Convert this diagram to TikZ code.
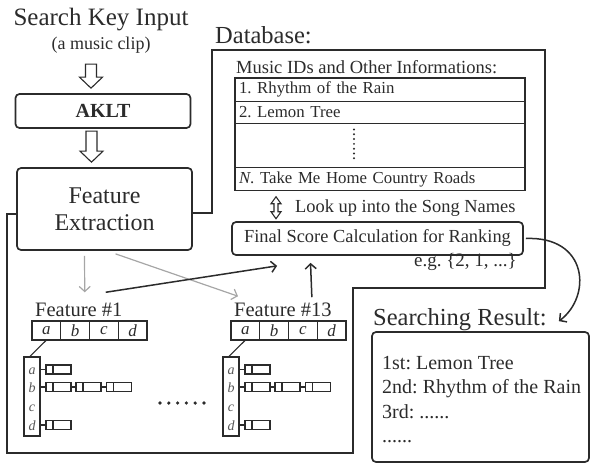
\documentclass[tikz,border=0pt]{standalone}
\usepackage{fontspec}
\setmainfont{Liberation Serif}
\usetikzlibrary{arrows.meta,calc,positioning}
\frenchspacing

\definecolor{ink}{gray}{0.17}

\tikzset{
  line/.style={draw=ink, line width=1.7pt},
  rbox/.style={line, rounded corners=4pt, inner sep=0pt, text=ink},
  listrow/.style={draw=ink, line width=1.4pt, minimum width=290pt, inner sep=4pt, outer sep=0pt, text=ink, font=\fontsize{16.8}{16.8}\selectfont},
  cell/.style={draw=ink, line width=1.4pt, minimum width=28.75pt, minimum height=19pt, inner sep=0pt, outer sep=0pt, text=ink, font=\fontsize{17}{17}\selectfont\itshape},
  column/.style={draw=ink, line width=1.3pt, minimum width=16pt, minimum height=79pt, inner sep=0pt},
  colletter/.style={anchor=base, inner sep=0pt, text=ink!80, font=\fontsize{14}{14}\selectfont\itshape},
  linkbox/.style={draw=ink, line width=1.2pt, minimum width=25pt, minimum height=9pt, inner sep=0pt,
    path picture={\draw[ink, line width=1.2pt] ([xshift=7pt]path picture bounding box.north west) -- ([xshift=7pt]path picture bounding box.south west);}},
  link/.style={draw=ink, line width=1.2pt},
  label/.style={inner sep=0pt, text=ink},
  grayarrow/.style={draw=gray!70, line width=1.2pt, -{Straight Barb[length=5pt,width=11pt]}},
  blackarrow/.style={draw=ink, line width=1.5pt, -{Straight Barb[length=5pt,width=11pt]}},
  hollow/.style={draw=ink, line width=1.1pt, fill=white},
  pics/hollow down/.style={code={
    \draw[hollow] (-5.5,0) -- (5.5,0) -- (5.5,{#1-11}) -- (11.5,{#1-11}) -- (0,#1)
      -- (-11.5,{#1-11}) -- (-5.5,{#1-11}) -- cycle;}},
  pics/hollow updown/.style={code={
    \draw[hollow] (0,0) -- (5,7) -- (2,7) -- (2,15) -- (5,15) -- (0,22) -- (-5,15)
      -- (-2,15) -- (-2,7) -- (-5,7) -- cycle;}}
}

\begin{document}
\begin{tikzpicture}[x=1pt, y=-1pt]
\useasboundingbox (0,0) rectangle (591,464);

% input side
\node[label, anchor=base, font=\fontsize{25}{25}\selectfont] (key) at (101,25) {Search Key Input};
\node[label, anchor=base, font=\fontsize{18}{18}\selectfont] (clip) at (101,49) {(a music clip)};
\node[rbox, minimum width=175pt, minimum height=34pt, font=\fontsize{20}{20}\selectfont\bfseries] (aklt) at (103,111) {AKLT};
\node[rbox, minimum width=175pt, minimum height=82pt, align=center, font=\fontsize{24}{27}\selectfont] (fe) at (104.5,209) {Feature\\Extraction};
\path (aklt.north) ++(-12,-29) pic {hollow down=24};
\path (fe.north) ++(-13,-36) pic {hollow down=31};

% database outline
\coordinate (dbin) at (212,213);
\coordinate (dbtl) at (212,50);
\coordinate (dbtr) at (545,50);
\coordinate (dbmr) at (545,288);
\coordinate (dbmm) at (353,288);
\coordinate (dbbr) at (353,453);
\coordinate (dbbl) at (7,453);
\coordinate (dbml) at (7,214);
\draw[line] (fe.east |- dbin) -- (dbin) -- (dbtl) -- (dbtr) -- (dbmr) -- (dbmm)
  -- (dbbr) -- (dbbl) -- (dbml) -- (fe.west |- dbml);
\node[label, anchor=base west, font=\fontsize{24.5}{24.5}\selectfont] (db) at (215,43) {Database:};

% music list
\node[label, anchor=base west, font=\fontsize{18.5}{18.5}\selectfont] (ids) at (236,73) {Music IDs and Other Informations:};
\node[listrow, minimum height=23pt, anchor=north west, text width=282pt] (row1) at (235,78) {1. Rhythm of the Rain};
\node[listrow, minimum height=22pt, below=0pt of row1, text width=282pt] (row2) {2. Lemon Tree};
\node[listrow, minimum height=44pt, below=0pt of row2] (rowdots) {};
\node[listrow, minimum height=22pt, below=0pt of rowdots, text width=282pt] (rowN) {\textit{N}. Take Me Home Country Roads};
\foreach \i in {0,...,6}
  \fill[ink] ($(rowdots.center)+(-26,{-16+4.8*\i})$) circle (1.1pt);

\path ($(rowN.south west)+(41,6)$) pic {hollow updown};
\node[label, anchor=base west, font=\fontsize{18.4}{18.4}\selectfont] (lookup) at (295,212) {Look up into the Song Names};

% ranking
\node[rbox, minimum width=291pt, minimum height=33pt, font=\fontsize{18.4}{18.4}\selectfont] (fs) at (377.5,238.5) {Final Score Calculation for Ranking};
\node[label, anchor=base east, font=\fontsize{19}{19}\selectfont] (eg) at (517,266) {e.g. \{2, 1, ...\}};

% features
\foreach \k/\dx in {1/0,13/199} {
  \node[label, anchor=base west, font=\fontsize{20.5}{20.5}\selectfont] (ft\k) at (35+\dx,316) {Feature \#\k};
  \foreach \l [count=\i from 0] in {a,b,c,d}
    \node[cell] (f\k\l) at ({46.4+28.75*\i+\dx},330.5) {\l};
  \node[column] (col\k) at (32+\dx,396.5) {};
  \foreach \l/\y in {a/374,b/392,c/411,d/430}
    \node[colletter] (l\k\l) at (32+\dx,\y) {\l};
  \draw[link] (f\k a.south) -- ([xshift=-2pt]col\k.north);
  % linked entries
  \node[linkbox] (k\k a1) at (58.5+\dx,369.5) {};
  \node[linkbox] (k\k b1) at (58.5+\dx,387) {};
  \node[linkbox] (k\k b2) at (88.5+\dx,387) {};
  \node[linkbox] (k\k b3) at (119+\dx,387) {};
  \node[linkbox] (k\k d1) at (58.5+\dx,425) {};
  \draw[link] (col\k.east |- k\k a1) -- (k\k a1.west);
  \draw[link] (col\k.east |- k\k b1) -- (k\k b1.west);
  \draw[link] (k\k b1.east) -- (k\k b2.west);
  \draw[link] (k\k b2.east) -- (k\k b3.west);
  \draw[link] (col\k.east |- k\k d1) -- (k\k d1.west);
}
\foreach \i in {0,...,5}
  \fill[ink] ({160+8.8*\i},403) circle (1.8pt);

% arrows
\draw[grayarrow] ($(fe.south)+(-20,5)$) -- ($(ft1.north)+(6,-10)$);
\draw[grayarrow] ($(fe.south)+(11,3)$) -- ($(ft13.north west)+(4,-6)$);
\draw[blackarrow] ($(ft1.north)+(27,-10)$) -- ($(fs.south west)+(46,10)$);
\draw[blackarrow] ($(ft13.north)+(29,-5)$) -- ($(fs.south)+(-67,7)$);

% result
\node[label, anchor=base west, font=\fontsize{24.5}{24.5}\selectfont] (sr) at (373,325) {Searching Result:};
\node[rbox, minimum width=217pt, minimum height=130pt] (res) at (480.5,397) {};
\node[label, anchor=north west, align=left, font=\fontsize{20}{24.5}\selectfont] (list) at (382,356)
  {1st: Lemon Tree\\2nd: Rhythm of the Rain\\3rd: ......\\......};
\coordinate (srend) at ($(sr.east)+(12,2)$);
\draw[blackarrow] ([xshift=2pt]fs.east) .. controls (588,236) and (592,296) .. (srend);
\end{tikzpicture}
\end{document}
